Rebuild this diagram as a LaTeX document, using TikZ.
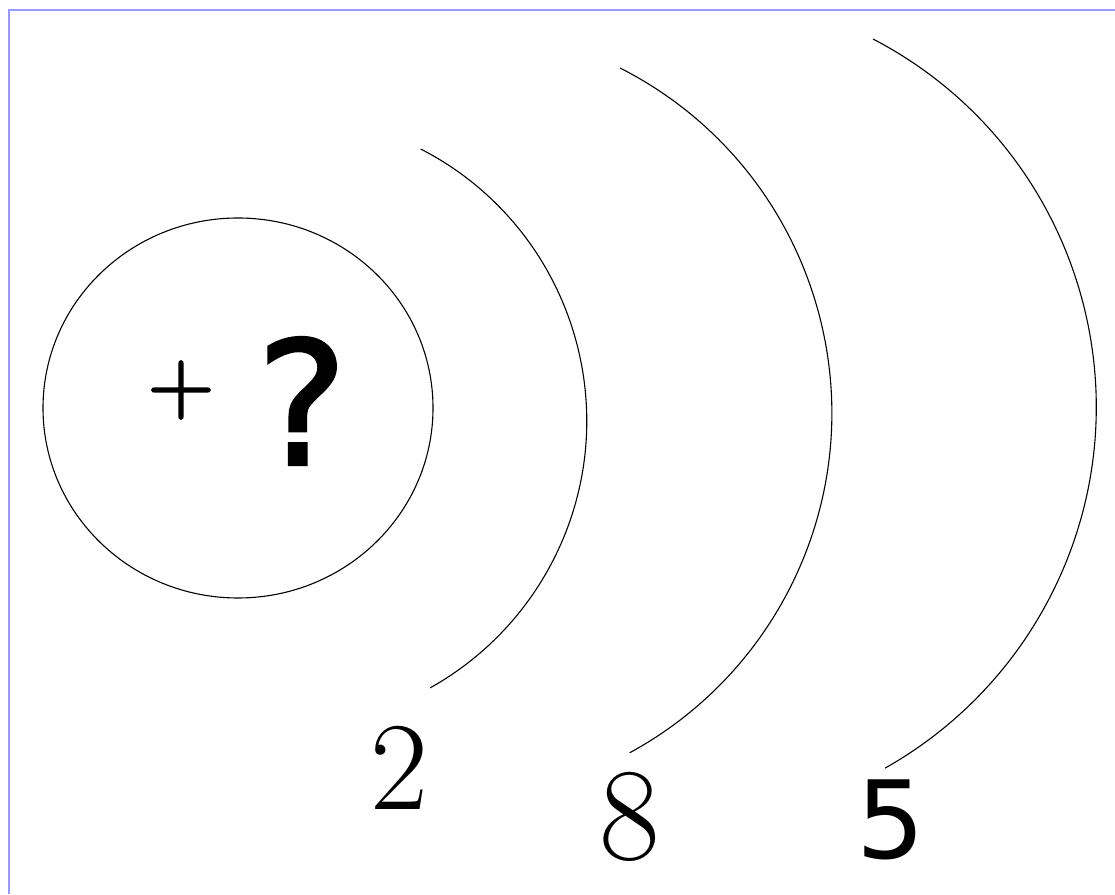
\documentclass[tikz,border=0pt]{standalone}
\usepackage{fontspec}
\newfontfamily\djsans{DejaVu Sans}
\newfontfamily\qfont[FakeBold=1.5]{DejaVu Sans}
\newfontfamily\plusf[Extension=.otf,FakeBold=2]{lmroman10-regular}
\usetikzlibrary{shapes.geometric}
\definecolor{framec}{RGB}{153,153,255}
\begin{document}
\begin{tikzpicture}[x=1pt,y=1pt,
  shell/.style={draw=black,line width=1.1pt},
  lbl/.style={inner sep=0pt,outer sep=0pt,text=black}]
\useasboundingbox[fill=white] (0,0) rectangle (1115,894);
% frame
\coordinate (ftl) at (9,884);
\coordinate (ftr) at (1115,884);
\coordinate (fbl) at (9,0);
\draw[framec,line width=2.2pt] (fbl) -- (ftl) -- (ftr);
% nucleus
\node[draw=black,line width=1.1pt,fill=white,ellipse,minimum width=390pt,minimum height=380pt,inner sep=0pt] (nuc) at (238,486) {};
\node[lbl,font=\plusf\fontsize{87}{87}\selectfont] (plus) at (181,504) {+};
\node[lbl,font=\qfont\fontsize{172}{172}\selectfont] (q) at (302,493) {?};
% shells
\coordinate (s1) at (420.7,745);
\coordinate (s2) at (620,826);
\coordinate (s3) at (873,855);
\draw[shell] (s1) arc[start angle=62.8,end angle=-60.8,radius=305.8];
\draw[shell] (s2) arc[start angle=63.1,end angle=-61.5,radius=386.8];
\draw[shell] (s3) arc[start angle=62.5,end angle=-60.6,radius=414.7];
% labels
\node[lbl,font=\rmfamily\fontsize{126}{126}\selectfont] (n2) at (399,126) {2};
\node[lbl,font=\rmfamily\fontsize{132}{132}\selectfont] (n8) at (630,77) {8};
\node[lbl,font=\djsans\fontsize{108}{108}\selectfont] (n5) at (891,74) {5};
\end{tikzpicture}
\end{document}
